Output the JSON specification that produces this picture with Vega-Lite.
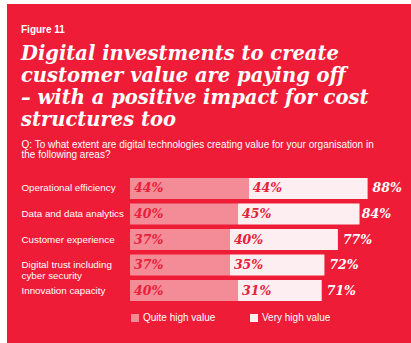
{
  "$schema": "https://vega.github.io/schema/vega-lite/v6.json",
  "width": 404,
  "height": 339,
  "autosize": {"type": "none"},
  "padding": {"left": 7, "top": 4, "right": 0, "bottom": 0},
  "background": "white",
  "config": {"view": {"fill": "#EE1C36", "stroke": null}, "font": "Liberation Sans"},
  "title": {
    "text": "Figure 11",
    "subtitle": ["Digital investments to create", "customer value are paying off", "– with a positive impact for cost", "structures too"],
    "anchor": "start",
    "frame": "group",
    "orient": "top",
    "offset": -125,
    "dx": 14,
    "font": "Liberation Sans",
    "fontSize": 10,
    "fontWeight": "bold",
    "color": "white",
    "subtitleFont": "DejaVu Serif",
    "subtitleFontSize": 19.5,
    "subtitleFontWeight": "bold",
    "subtitleFontStyle": "italic",
    "subtitleColor": "white",
    "subtitleLineHeight": 22,
    "subtitlePadding": 10
  },
  "datasets": {
    "shares": [
      {"category": "Operational efficiency", "type": "Quite high value", "value": 0.44, "order": 1},
      {"category": "Operational efficiency", "type": "Very high value", "value": 0.44, "order": 2},
      {"category": "Data and data analytics", "type": "Quite high value", "value": 0.40, "order": 1},
      {"category": "Data and data analytics", "type": "Very high value", "value": 0.45, "order": 2},
      {"category": "Customer experience", "type": "Quite high value", "value": 0.37, "order": 1},
      {"category": "Customer experience", "type": "Very high value", "value": 0.40, "order": 2},
      {"category": "Digital trust including cyber security", "type": "Quite high value", "value": 0.37, "order": 1},
      {"category": "Digital trust including cyber security", "type": "Very high value", "value": 0.35, "order": 2},
      {"category": "Innovation capacity", "type": "Quite high value", "value": 0.40, "order": 1},
      {"category": "Innovation capacity", "type": "Very high value", "value": 0.31, "order": 2}
    ],
    "totals": [
      {"category": "Operational efficiency", "total": 0.88},
      {"category": "Data and data analytics", "total": 0.84},
      {"category": "Customer experience", "total": 0.77},
      {"category": "Digital trust including cyber security", "total": 0.72},
      {"category": "Innovation capacity", "total": 0.71}
    ]
  },
  "layer": [
    {
      "data": {"name": "shares"},
      "transform": [{"stack": "value", "groupby": ["category"], "sort": [{"field": "order"}], "as": ["v0", "v1"]}],
      "mark": {"type": "bar"},
      "encoding": {
        "y": {
          "field": "category", "type": "nominal",
          "sort": ["Operational efficiency", "Data and data analytics", "Customer experience", "Digital trust including cyber security", "Innovation capacity"],
          "scale": {"range": [174, 297], "paddingInner": 0.18, "paddingOuter": 0},
          "axis": {
            "title": null, "domain": false, "ticks": false, "tickSize": 0, "labelPadding": 0, "offset": -14,
            "labelAlign": "left", "labelColor": "white", "labelFont": "Liberation Sans", "labelFontSize": 9.8,
            "labelLimit": 0, "labelLineHeight": 10.5,
            "labelExpr": "datum.label == 'Digital trust including cyber security' ? ['Digital trust including', 'cyber security'] : datum.label"
          }
        },
        "x": {
          "field": "v0", "type": "quantitative",
          "scale": {"domain": [-0.4556, 1.0407], "nice": false, "zero": false},
          "axis": {
            "orient": "top", "domain": false, "ticks": false, "labels": false, "grid": false,
            "title": ["Q: To what extent are digital technologies creating value for your organisation in", "\u00a0\u00a0\u00a0\u00a0\u00a0the following areas?"],
            "titleX": 14, "titleY": 143, "titleAlign": "left", "titleBaseline": "alphabetic",
            "titleColor": "white", "titleFont": "Liberation Sans", "titleFontSize": 10, "titleFontWeight": "normal", "titleLineHeight": 10.5
          }
        },
        "x2": {"field": "v1"},
        "color": {
          "field": "type", "type": "nominal",
          "scale": {"domain": ["Quite high value", "Very high value"], "range": ["#F48C98", "#FDEFF1"]},
          "legend": {
            "orient": "none", "legendX": 123, "legendY": 309, "direction": "horizontal", "title": null,
            "symbolType": "square", "symbolSize": 64, "symbolStrokeWidth": 0, "padding": 0,
            "labelColor": "white", "labelFont": "Liberation Sans", "labelFontSize": 10,
            "columnPadding": 33, "labelOffset": 3
          }
        }
      }
    },
    {
      "data": {"name": "shares"},
      "transform": [{"stack": "value", "groupby": ["category"], "sort": [{"field": "order"}], "as": ["v0", "v1"]}],
      "mark": {"type": "text", "align": "left", "baseline": "middle", "dx": 4, "font": "DejaVu Serif", "fontSize": 12.5, "fontWeight": "bold", "fontStyle": "italic", "color": "#E8203A"},
      "encoding": {
        "y": {"field": "category", "type": "nominal", "sort": ["Operational efficiency", "Data and data analytics", "Customer experience", "Digital trust including cyber security", "Innovation capacity"]},
        "x": {"field": "v0", "type": "quantitative"},
        "text": {"field": "value", "type": "quantitative", "format": ".0%"}
      }
    },
    {
      "data": {"name": "totals"},
      "mark": {"type": "text", "align": "left", "baseline": "middle", "dx": 5, "font": "DejaVu Serif", "fontSize": 12.5, "fontWeight": "bold", "fontStyle": "italic", "color": "white"},
      "encoding": {
        "y": {"field": "category", "type": "nominal", "sort": ["Operational efficiency", "Data and data analytics", "Customer experience", "Digital trust including cyber security", "Innovation capacity"]},
        "x": {"field": "total", "type": "quantitative"},
        "text": {"field": "total", "type": "quantitative", "format": ".0%"}
      }
    }
  ]
}
